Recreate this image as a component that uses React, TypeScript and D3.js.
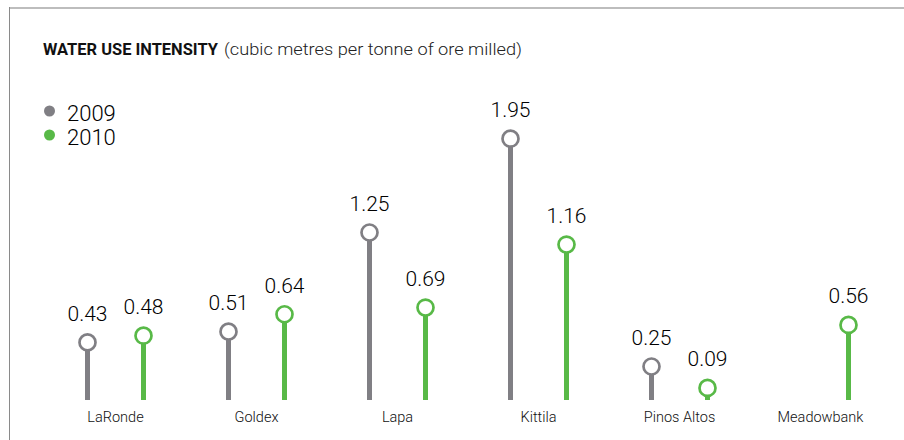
import React, { useLayoutEffect, useRef, useState } from "react";
import * as d3 from "d3";

const categories = ["LaRonde", "Goldex", "Lapa", "Kittila", "Pinos Altos", "Meadowbank"];
const seriesNames = ["2009", "2010"];
const values2009: (number | null)[] = [0.43, 0.51, 1.25, 1.95, 0.25, null];
const values2010: (number | null)[] = [0.48, 0.64, 0.69, 1.16, 0.09, 0.56];
const seriesColors = ["#807f84", "#58b947"];
const titleText = "WATER USE INTENSITY";
const subtitleText = "(cubic metres per tonne of ore milled)";

const W = 904;
const H = 440;

export default function App() {
  const x = d3.scaleBand<string>().domain(categories).range([45, 891]);
  const xs = d3.scalePoint<string>().domain(seriesNames).range([-28, 28]);
  const y = d3.scaleLinear().domain([0, 2]).range([400, 132]);
  const series = [values2009, values2010];
  const numFont = "Roboto, 'Liberation Sans', sans-serif";

  const titleRef = useRef<SVGTextElement>(null);
  const subRef = useRef<SVGTextElement>(null);
  const [scales, setScales] = useState<[number, number]>([1, 1]);
  useLayoutEffect(() => {
    const t = titleRef.current ? titleRef.current.getComputedTextLength() : 175;
    const s = subRef.current ? subRef.current.getComputedTextLength() : 298;
    setScales([175 / t, 298 / s]);
  }, []);

  return (
    <svg
      width={W}
      height={H}
      style={{ position: "absolute", left: 0, top: 0, background: "#fff" }}
      fontFamily={numFont}
    >
      <rect x={9} y={7} width={W - 9} height={2} fill="#bdbdbd" />
      <rect x={9} y={7} width={1} height={H - 7} fill="#8a8a8a" />

      <g transform={`translate(43,55) scale(${scales[0]},1)`}>
        <text ref={titleRef} x={0} y={0} fontSize={17} fontWeight={700} fill="#111">
          {titleText}
        </text>
      </g>
      <g transform={`translate(224,55) scale(${scales[1]},1)`}>
        <text ref={subRef} x={0} y={0} fontSize={17} fontWeight={300} fill="#222">
          {subtitleText}
        </text>
      </g>

      {seriesNames.map((s, i) => (
        <g key={s} transform={`translate(0,${111 + i * 24})`}>
          <circle cx={49.5} cy={0} r={5.5} fill={seriesColors[i]} />
          <text x={67} y={10} fontSize={22} fontWeight={300} fill="#000">
            {s}
          </text>
        </g>
      ))}

      {categories.map((c, ci) => (
        <g key={c}>
          {series.map((vals, si) => {
            const v = vals[ci];
            if (v == null) return null;
            const cx = (x(c) as number) + x.bandwidth() / 2 + (xs(seriesNames[si]) as number);
            const cy = y(v);
            return (
              <g key={si}>
                <line x1={cx} x2={cx} y1={cy} y2={y(0)} stroke={seriesColors[si]} strokeWidth={5} />
                <circle cx={cx} cy={cy} r={8} fill="#fff" stroke={seriesColors[si]} strokeWidth={2.7} />
                <text x={cx} y={cy - 21.5} textAnchor="middle" fontSize={21} fontWeight={300} fill="#000">
                  {v.toFixed(2)}
                </text>
              </g>
            );
          })}
          <text
            x={(x(c) as number) + x.bandwidth() / 2}
            y={422}
            textAnchor="middle"
            fontSize={14.5}
            fontWeight={300}
            fill="#111"
          >
            {c}
          </text>
        </g>
      ))}
    </svg>
  );
}
